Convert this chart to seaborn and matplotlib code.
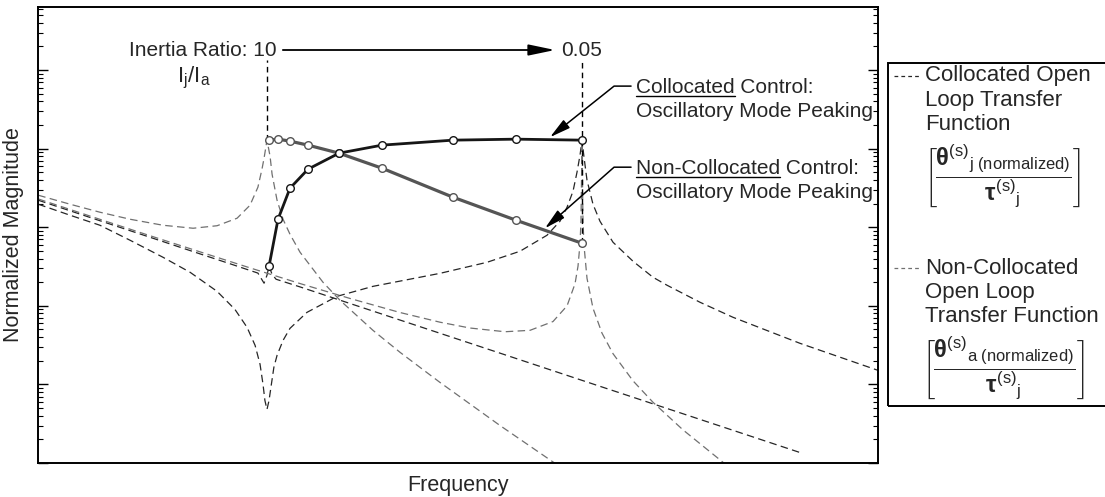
import matplotlib
matplotlib.use("Agg")
import matplotlib.pyplot as plt
import seaborn as sns
from matplotlib.lines import Line2D
from matplotlib.patches import Rectangle
from matplotlib.ticker import LogLocator, NullLocator

# frequency normalised to the resonance at inertia ratio 10 (= 1.0)
# collocated open loop, inertia ratio 10
coll_ratio10_freq = [0.330, 0.445, 0.567, 0.723, 0.836, 0.957, 0.986, 1.000, 1.010, 1.025,
                     1.045, 1.174, 1.496, 1.906, 3.094, 5.023, 8.157, 13.44]
coll_ratio10_mag = [2.208, 1.210, 0.746, 0.458, 0.343, 0.261, 0.194, 0.245, 0.319, 0.252,
                    0.218, 0.174, 0.107, 0.0659, 0.0250, 0.00946, 0.00359, 0.00132]

# collocated open loop, inertia ratio 0.05
coll_ratio005_freq = [0.330, 0.385, 0.445, 0.515, 0.604, 0.689, 0.785, 0.856, 0.908, 0.944,
                      0.967, 0.981, 0.990, 1.000, 1.010, 1.020, 1.034, 1.050, 1.081, 1.118,
                      1.214, 1.404, 1.672, 2.313, 2.905, 3.409, 3.886, 4.138, 4.282, 4.408,
                      4.494, 4.560, 4.604, 4.649, 4.717, 4.856, 5.023, 5.351, 5.896, 6.494,
                      6.950, 8.157, 9.575, 13.25, 19.33]
coll_ratio005_mag = [1.963, 1.422, 1.060, 0.683, 0.415, 0.267, 0.153, 0.0902, 0.0532, 0.0314,
                     0.0180, 0.0100, 0.00625, 0.00480, 0.00625, 0.00943, 0.0165, 0.0234, 0.0363, 0.0517,
                     0.0826, 0.132, 0.177, 0.259, 0.358, 0.495, 0.791, 1.192, 1.798, 2.874,
                     5.019, 8.266, 12.83, 7.794, 3.969, 1.963, 1.192, 0.644, 0.369, 0.231,
                     0.183, 0.111, 0.0714, 0.0333, 0.0151]

# non-collocated open loop, inertia ratio 10
noncoll_ratio10_freq = [0.330, 0.385, 0.445, 0.515, 0.604, 0.699, 0.785, 0.865, 0.921, 0.957,
                        0.976, 0.986, 1.000, 1.015, 1.025, 1.050, 1.081, 1.118, 1.174, 1.312,
                        1.425, 1.672, 1.906, 2.313, 3.094, 4.138]
noncoll_ratio10_mag = [2.556, 1.963, 1.553, 1.264, 1.060, 0.971, 1.045, 1.302, 1.906, 3.233,
                       5.48, 7.57, 12.83, 8.03, 4.733, 2.208, 1.264, 0.814, 0.480, 0.1993,
                       0.1175, 0.0487, 0.0256, 0.0106, 0.00300, 0.000896]

# non-collocated open loop, inertia ratio 0.05
noncoll_ratio005_freq = [0.330, 0.445, 0.567, 0.723, 0.921, 1.174, 1.496, 1.906, 2.313, 2.674,
                         3.170, 3.579, 4.000, 4.282, 4.451, 4.516, 4.560, 4.582, 4.604, 4.626,
                         4.649, 4.717, 4.856, 5.072, 5.351, 5.896, 6.494, 7.511, 9.209, 9.890]
noncoll_ratio005_mag = [2.29, 1.261, 0.781, 0.486, 0.304, 0.192, 0.124, 0.0822, 0.0619, 0.0522,
                        0.0468, 0.0488, 0.0631, 0.0999, 0.191, 0.320, 0.619, 1.221, 12.1, 1.188,
                        0.586, 0.224, 0.0932, 0.0450, 0.0246, 0.0111, 0.00593, 0.00264, 0.000973, 0.00070]

# oscillatory mode peaking for the inertia ratios between 10 and 0.05
ctrl_freq = [1.010, 1.055, 1.118, 1.220, 1.418, 1.746, 2.464, 3.344, 4.604]
coll_ctrl_mag = [0.319, 1.264, 3.139, 5.48, 8.76, 11.08, 12.83, 13.21, 12.83]
noncoll_ctrl_mag = [12.83, 13.21, 12.46, 11.08, 8.76, 5.64, 2.411, 1.228, 0.626]

ratio_freq = [1.0, 4.604]
ratio_labels = ['10', '0.05']

sns.set_style('ticks')
plt.rcParams['font.family'] = ['Liberation Sans', 'DejaVu Sans']
plt.rcParams['mathtext.fontset'] = 'custom'
plt.rcParams['mathtext.rm'] = 'Liberation Sans'
plt.rcParams['mathtext.it'] = 'Liberation Sans'
plt.rcParams['mathtext.bf'] = 'Liberation Sans:bold'

W, H = 1105, 497
fig = plt.figure(figsize=(W / 100, H / 100), dpi=100)
ax = fig.add_axes([38 / W, 34 / H, 840 / W, 456 / H])
ax.set_xscale('log')
ax.set_yscale('log')

dash = (0, (6, 3.5))
coll_col = '#262626'
noncoll_col = '#707070'
curves = [
    (coll_ratio10_freq, coll_ratio10_mag, coll_col),
    (coll_ratio005_freq, coll_ratio005_mag, coll_col),
    (noncoll_ratio10_freq, noncoll_ratio10_mag, noncoll_col),
    (noncoll_ratio005_freq, noncoll_ratio005_mag, noncoll_col),
]
for f, m, c in curves:
    sns.lineplot(x=f, y=m, ax=ax, color=c, lw=0.9, linestyle=dash,
                 estimator=None, sort=False, zorder=2)

# inertia ratio markers (vertical dashed lines)
ax.vlines(ratio_freq[0], max(noncoll_ratio10_mag), 134, color='black', lw=1.0,
          linestyle=(0, (4, 3)), zorder=2)
ax.vlines(ratio_freq[1], noncoll_ctrl_mag[-1], 134, color='black', lw=1.0,
          linestyle=(0, (4, 3)), zorder=2)

sns.lineplot(x=ctrl_freq, y=noncoll_ctrl_mag, ax=ax, color='#555555', lw=2.3,
             marker='o', markersize=5.5, markerfacecolor='white',
             markeredgecolor='#555555', markeredgewidth=1.0,
             estimator=None, sort=False, zorder=5)
sns.lineplot(x=ctrl_freq, y=coll_ctrl_mag, ax=ax, color='#161616', lw=2.0,
             marker='o', markersize=5.5, markerfacecolor='white',
             markeredgecolor='#161616', markeredgewidth=1.0,
             estimator=None, sort=False, zorder=6)

ax.set_xlim(0.3296, 19.33)
ax.set_ylim(0.001, 634.6)

ax.xaxis.set_major_locator(NullLocator())
ax.xaxis.set_minor_locator(NullLocator())
ax.yaxis.set_major_locator(LogLocator(base=10, numticks=12))
ax.yaxis.set_minor_locator(LogLocator(base=10, subs=range(2, 10), numticks=12))
ax.tick_params(axis='y', which='both', direction='in', left=True, right=True,
               labelleft=False, labelright=False, color='black')
ax.tick_params(axis='y', which='major', length=7, width=1.0)
ax.tick_params(axis='y', which='minor', length=3.5, width=0.8)
ax.tick_params(axis='x', which='both', bottom=False, labelbottom=False)
for s in ax.spines.values():
    s.set_visible(True)
    s.set_linewidth(1.4)
    s.set_color('black')

ax.set_xlabel('Frequency', fontsize=15.5, labelpad=9)
ax.set_ylabel('Normalized Magnitude', fontsize=15.5, labelpad=10)

# inertia ratio annotation
fs = 15
ax.text(1.05, 180, f'Inertia Ratio: {ratio_labels[0]}', ha='right', va='center', fontsize=fs)
ax.text(4.16, 180, ratio_labels[1], ha='left', va='center', fontsize=fs)
ax.annotate('', xy=(4.04, 180), xytext=(1.08, 180),
            arrowprops=dict(arrowstyle='-|>,head_length=1.15,head_width=0.24',
                            color='black', lw=1.3, shrinkA=0, shrinkB=0, mutation_scale=14))
ax.text(0.70, 79, r'$\mathregular{I_j/I_a}$', ha='center', va='center', fontsize=16)

# peaking callouts
t_coll = ax.text(5.98, 50.9, 'Collocated Control:', ha='left', va='baseline', fontsize=fs)
ax.text(5.98, 25.2, 'Oscillatory Mode Peaking', ha='left', va='baseline', fontsize=fs)
t_noncoll = ax.text(5.98, 4.73, 'Non-Collocated Control:', ha='left', va='baseline', fontsize=fs)
ax.text(5.98, 2.34, 'Oscillatory Mode Peaking', ha='left', va='baseline', fontsize=fs)
arc = 'arc,angleA=180,armA=17,angleB=0,armB=0,rad=0'
ax.annotate('', xy=(3.943, 14.0), xytext=(5.84, 62.5),
            arrowprops=dict(arrowstyle='-|>,head_length=0.9,head_width=0.22', color='black',
                            lw=1.1, shrinkA=0, shrinkB=0, mutation_scale=14,
                            connectionstyle=arc))
ax.annotate('', xy=(3.848, 0.971), xytext=(5.84, 5.81),
            arrowprops=dict(arrowstyle='-|>,head_length=0.9,head_width=0.22', color='black',
                            lw=1.1, shrinkA=0, shrinkB=0, mutation_scale=14,
                            connectionstyle=arc))

# legend box drawn by hand (entries have bracketed transfer functions)
def fx(px):
    return px / W


def fy(py):
    return 1 - py / H


fig.add_artist(Rectangle((fx(888), fy(406)), fx(1115) - fx(888), fy(63) - fy(406),
                         transform=fig.transFigure, fill=False, ec='black', lw=1.4))
leg_entries = [
    (76, ['Collocated Open', 'Loop Transfer', 'Function'], coll_col,
     r'$\left[\dfrac{\mathbf{\theta}^{\mathrm{(s)}}{}_{\mathrm{j\ (normalized)}}}{\mathbf{\tau}^{\mathrm{(s)}}{}_{\mathrm{j}}}\right]$'),
    (268, ['Non-Collocated', 'Open Loop', 'Transfer Function'], noncoll_col,
     r'$\left[\dfrac{\mathbf{\theta}^{\mathrm{(s)}}{}_{\mathrm{a\ (normalized)}}}{\mathbf{\tau}^{\mathrm{(s)}}{}_{\mathrm{j}}}\right]$'),
]
for y0, lines, c, frac in leg_entries:
    fig.add_artist(Line2D([fx(894), fx(921)], [fy(y0), fy(y0)], transform=fig.transFigure,
                          color=c, lw=0.9, linestyle=(0, (3, 2.5))))
    for i, s in enumerate(lines):
        fig.text(fx(925), fy(y0 + 24.5 * i), s, ha='left', va='center', fontsize=16)
    fig.text(fx(1003), fy(y0 + 100), frac, ha='center', va='center', fontsize=17)

# underline the first word of each callout
fig.canvas.draw()
rend = fig.canvas.get_renderer()
inv = fig.transFigure.inverted()
for txt, word in ((t_coll, 'Collocated'), (t_noncoll, 'Non-Collocated')):
    probe = ax.text(*txt.get_position(), word, ha='left', va='baseline', fontsize=fs)
    bb = probe.get_window_extent(rend)
    probe.remove()
    base = ax.transData.transform(txt.get_position())[1] - 2.5
    (x0, yy), (x1, _) = inv.transform([(bb.x0, base), (bb.x1, base)])
    fig.add_artist(Line2D([x0, x1], [yy, yy], transform=fig.transFigure, color='black', lw=1.0))

fig.savefig('out.png', dpi=100)
